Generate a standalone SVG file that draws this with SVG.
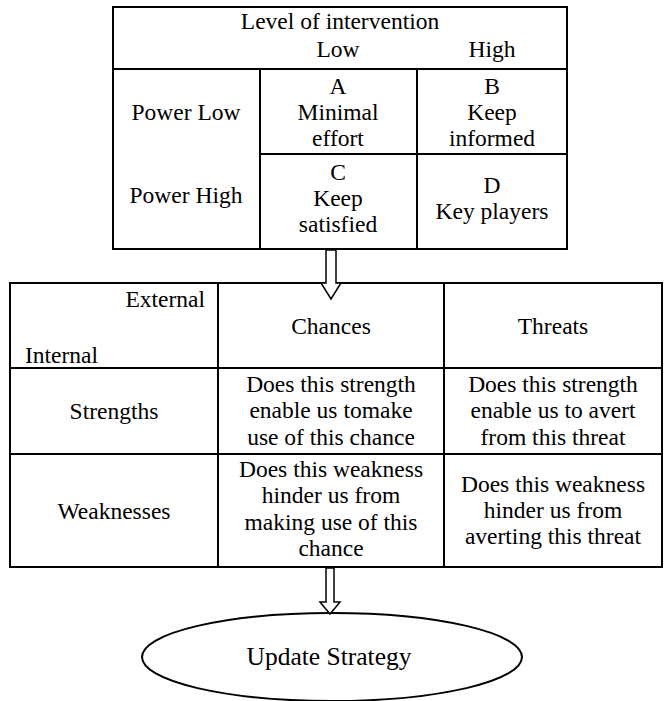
<svg xmlns="http://www.w3.org/2000/svg" width="664" height="701" viewBox="0 0 664 701">
<style>
.t{font-family:"Liberation Serif","Times New Roman",serif;font-size:23.5px;fill:#000;text-anchor:middle}
.b{fill:none;stroke:#000;stroke-width:2}
.a{fill:#fff;stroke:#000;stroke-width:1.5;stroke-linejoin:miter}
</style>
<rect width="664" height="701" fill="#fff"/>
<g id="stakeholder-matrix">
<rect class="b" x="113" y="7" width="454" height="242"/>
<line class="b" x1="113" y1="69" x2="567" y2="69"/>
<line class="b" x1="260" y1="69" x2="260" y2="249"/>
<line class="b" x1="417" y1="69" x2="417" y2="249"/>
<line class="b" x1="260" y1="154" x2="567" y2="154"/>
<text class="t" x="340" y="29">Level of intervention</text>
<text class="t" x="338" y="57">Low</text>
<text class="t" x="492" y="57">High</text>
<text class="t" x="186" y="120">Power Low</text>
<text class="t" x="186" y="203">Power High</text>
<text class="t" x="338" y="94">A</text>
<text class="t" x="338" y="120">Minimal</text>
<text class="t" x="338" y="146">effort</text>
<text class="t" x="492" y="94">B</text>
<text class="t" x="492" y="120">Keep</text>
<text class="t" x="492" y="146">informed</text>
<text class="t" x="338" y="180">C</text>
<text class="t" x="338" y="206">Keep</text>
<text class="t" x="338" y="232">satisfied</text>
<text class="t" x="492" y="193">D</text>
<text class="t" x="492" y="219">Key players</text>
</g>
<g id="swot-matrix">
<rect class="b" x="10" y="283" width="652" height="284"/>
<line class="b" x1="10" y1="368" x2="662" y2="368"/>
<line class="b" x1="10" y1="454" x2="662" y2="454"/>
<line class="b" x1="218" y1="283" x2="218" y2="567"/>
<line class="b" x1="444" y1="283" x2="444" y2="567"/>
<text class="t" x="205" y="307" style="text-anchor:end">External</text>
<text class="t" x="25" y="363" style="text-anchor:start">Internal</text>
<text class="t" x="331" y="334">Chances</text>
<text class="t" x="553" y="334">Threats</text>
<text class="t" x="114" y="419">Strengths</text>
<text class="t" x="331" y="392">Does this strength</text>
<text class="t" x="331" y="418">enable us tomake</text>
<text class="t" x="331" y="445">use of this chance</text>
<text class="t" x="553" y="392">Does this strength</text>
<text class="t" x="553" y="418">enable us to avert</text>
<text class="t" x="553" y="445">from this threat</text>
<text class="t" x="114" y="519">Weaknesses</text>
<text class="t" x="331" y="477">Does this weakness</text>
<text class="t" x="331" y="503">hinder us from</text>
<text class="t" x="331" y="530">making use of this</text>
<text class="t" x="331" y="556">chance</text>
<text class="t" x="553" y="492">Does this weakness</text>
<text class="t" x="553" y="518">hinder us from</text>
<text class="t" x="553" y="544">averting this threat</text>
</g>
<g id="update-strategy">
<ellipse class="b" cx="332" cy="657" rx="190" ry="44"/>
<text class="t" x="329" y="665" style="font-size:25.5px">Update Strategy</text>
</g>
<g id="connectors">
<polygon class="a" points="326,250 336,250 336,283 341,283 331,299 321,283 326,283"/>
<polygon class="a" points="326,568 334,568 334,602 340,602 330,614 320,602 326,602"/>
</g>
</svg>
